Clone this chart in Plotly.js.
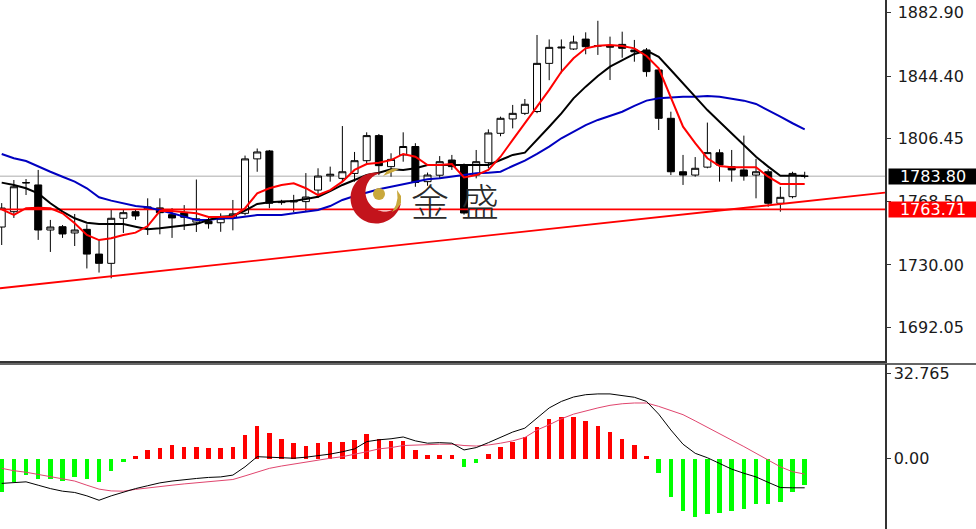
<!DOCTYPE html>
<html><head><meta charset="utf-8">
<script src="https://cdn.plot.ly/plotly-3.0.1.min.js"></script>
<style>html,body{margin:0;padding:0;background:#fff;}#chart{width:976px;height:529px;}</style>
</head><body><div id="chart"></div>
<script>
// ---------- data ----------
const openP = [1753.0,1762.3,1779.7,1778.5,1751.2,1753.2,1749.4,1751.6,1736.6,1731.0,
 1758.3,1762.3,1764.0,1764.6,1760.5,1761.7,1756.0,1756.5,1755.6,1759.0,
 1761.3,1794.3,1799.1,1767.8,1768.2,1768.4,1775.4,1784.0,1782.5,1785.5,
 1793.2,1808.4,1789.6,1796.7,1801.8,1780.5,1784.4,1793.6,1790.6,1784.5,
 1792.0,1809.8,1818.5,1821.9,1823.0,1852.2,1861.5,1860.9,1866.9,1862.6,
 1863.0,1863.7,1860.3,1860.3,1848.2,1818.9,1786.5,1784.5,1789.3,1798.0,
 1789.6,1787.6,1784.5,1786.5,1767.4,1771.4,1783.8];
const highP = [1767.5,1781.5,1782.1,1787.6,1757.3,1754.2,1760.9,1754.6,1745.2,1763.7,
 1763.8,1763.7,1770.4,1770.4,1764.5,1766.3,1781.8,1759.0,1761.3,1769.4,
 1796.3,1800.6,1799.7,1769.5,1772.5,1785.7,1788.6,1789.6,1814.2,1798.5,
 1810.4,1809.4,1797.7,1810.4,1803.8,1786.0,1796.0,1796.7,1791.5,1799.7,
 1812.2,1819.9,1827.0,1830.6,1869.4,1866.7,1866.7,1869.0,1871.0,1878.0,
 1868.4,1871.4,1866.4,1861.5,1849.2,1822.9,1796.7,1795.4,1816.3,1800.1,
 1799.7,1808.4,1794.3,1788.0,1777.4,1786.5,1786.5];
const lowP = [1742.1,1758.5,1772.4,1745.2,1737.9,1746.4,1741.5,1727.9,1725.4,1721.9,
 1749.4,1757.3,1748.2,1748.6,1746.4,1751.2,1750.0,1752.0,1750.1,1751.0,
 1760.1,1786.5,1764.4,1766.5,1762.0,1762.6,1770.6,1780.5,1780.5,1780.5,
 1791.6,1784.5,1783.5,1792.6,1777.4,1778.0,1782.5,1787.6,1760.5,1782.5,
 1788.6,1808.0,1812.8,1820.9,1822.0,1842.0,1846.2,1860.3,1857.7,1857.3,
 1842.1,1855.6,1853.2,1844.1,1811.8,1784.5,1778.5,1783.5,1788.6,1780.5,
 1780.5,1781.1,1770.4,1765.3,1762.3,1770.4,1782.5];
const closeP = [1764.5,1777.4,1779.9,1751.2,1753.0,1748.8,1751.2,1736.6,1731.0,1758.3,
 1761.7,1759.7,1765.2,1761.7,1758.5,1758.9,1758.0,1755.0,1758.3,1761.0,
 1794.3,1798.5,1767.4,1768.4,1769.0,1771.2,1783.9,1785.0,1786.5,1793.2,
 1808.4,1790.2,1794.0,1801.8,1780.0,1784.5,1792.6,1789.6,1761.5,1792.6,
 1810.0,1818.9,1821.9,1827.4,1852.2,1861.9,1862.0,1865.1,1862.3,1863.0,
 1862.0,1861.3,1859.2,1847.2,1818.9,1786.5,1784.5,1788.6,1798.1,1790.6,
 1787.6,1783.9,1786.5,1767.4,1771.0,1785.5,1783.8];
const maRed = [1763.7,1760.3,1764.4,1764.7,1764.4,1761.3,1755.3,1748.2,1745.1,1746.2,
 1748.2,1749.6,1753.6,1762.7,1762.7,1762.1,1761.3,1759.1,1759.1,1759.3,
 1764.4,1773.4,1776.5,1778.5,1779.5,1776.5,1772.4,1775.4,1780.5,1787.6,
 1791.2,1792.0,1793.6,1797.3,1795.6,1790.6,1790.6,1791.2,1783.1,1784.5,
 1787.6,1795.6,1805.8,1815.9,1825.9,1836.1,1847.1,1855.3,1861.3,1862.9,
 1863.3,1862.7,1861.3,1856.7,1849.2,1832.0,1813.8,1803.8,1794.7,1790.0,
 1789.2,1789.2,1789.2,1783.5,1779.1,1779.1,1779.1];
const maBlack = [1779.9,1778.5,1776.5,1773.4,1767.4,1762.3,1758.3,1755.6,1754.8,1754.8,
 1754.8,1753.2,1751.6,1752.2,1753.2,1754.1,1754.8,1757.3,1759.3,1759.7,
 1762.9,1767.0,1768.0,1768.4,1768.8,1770.0,1771.4,1774.8,1778.5,1781.5,
 1784.5,1785.9,1788.0,1787.6,1788.6,1790.6,1790.6,1790.6,1790.6,1790.2,
 1790.6,1793.6,1796.7,1798.1,1805.8,1813.8,1821.9,1831.0,1838.1,1844.5,
 1850.2,1854.2,1857.9,1859.9,1856.2,1848.2,1840.1,1832.0,1823.9,1816.8,
 1809.8,1802.7,1795.6,1789.6,1784.1,1784.1,1784.1];
const maBlue = [1797.3,1794.7,1793.0,1789.6,1786.5,1783.5,1780.5,1776.5,1771.0,1769.0,
 1767.4,1765.7,1765.0,1763.3,1761.3,1759.3,1757.3,1757.3,1758.3,1758.3,
 1759.3,1760.3,1760.3,1760.3,1761.3,1762.1,1763.3,1765.7,1769.4,1771.8,
 1773.8,1775.9,1777.4,1778.9,1780.5,1781.9,1782.5,1783.5,1784.5,1785.6,
 1785.9,1786.5,1790.0,1793.2,1797.3,1801.7,1806.8,1810.8,1814.8,1817.9,
 1820.3,1822.9,1826.4,1829.6,1831.0,1831.6,1832.0,1832.0,1832.4,1832.0,
 1831.0,1829.6,1827.6,1823.9,1819.9,1815.9,1812.2];
const macdHist = [-12.95,-9.25,-6.55,-7.8,-7.8,-8.6,-7.3,-7.8,-9.25,-5.0,
 -1.5,0.8,3.1,4.2,5.3,4.6,4.6,4.2,4.2,4.6,
 9.1,12.6,9.8,7.6,5.8,5.0,5.8,6.3,6.55,7.2,
 9.4,7.5,6.9,6.9,3.1,1.2,1.2,1.2,-3.3,-1.8,
 1.6,4.6,6.5,8.4,12.3,15.3,15.9,15.9,14.5,12.6,
 10.2,7.6,5.3,1.0,-5.7,-14.7,-20.1,-22.4,-21.3,-21.0,
 -20.4,-19.4,-17.5,-17.6,-16.6,-13.1,-10.2];
const macdLine = [-9.6,-9.2,-9.0,-10.3,-11.6,-12.6,-13.1,-14.4,-16.1,-14.4,
 -12.9,-11.6,-10.5,-9.4,-8.7,-8.1,-7.7,-7.3,-7.1,-6.4,
 -3.2,0.7,0.5,0.5,0.1,0.5,1.1,1.7,2.6,3.7,
 6.5,7.2,7.6,8.3,6.8,5.9,6.1,5.9,3.3,4.2,
 6.1,8.1,10.2,11.7,15.6,19.5,22.0,23.7,24.6,24.9,
 24.9,24.3,23.6,22.0,17.1,11.0,5.5,2.0,0.3,-1.9,
 -4.1,-5.7,-7.1,-9.2,-11.2,-11.3,-11.3];
const macdSignal = [-3.8,-4.7,-5.3,-6.1,-7.1,-7.7,-8.7,-10.3,-11.8,-12.5,
 -12.6,-11.9,-11.3,-10.7,-10.3,-9.8,-9.4,-9.0,-8.7,-8.1,
 -6.7,-5.1,-3.8,-2.9,-2.1,-1.5,-0.6,0.1,0.7,1.6,
 2.6,3.7,4.2,5.0,5.2,5.5,5.5,5.5,5.0,4.8,
 5.2,5.9,6.8,8.1,11.0,13.0,15.3,17.1,18.4,19.5,
 20.5,21.1,21.4,21.4,20.1,18.4,16.9,14.5,12.1,9.5,
 7.2,4.6,2.0,-0.6,-3.2,-5.1,-6.0];
const priceTicks = [1882.90,1844.40,1806.45,1768.50,1730.00,1692.05];
const priceTickText = ['1882.90','1844.40','1806.45','1768.50','1730.00','1692.05'];
const macdTicks = [32.765, 0];
const macdTickText = ['32.765','0.00'];
const lastPrice = 1783.80;
const lastPriceText = '1783.80';
const supportLevel = 1763.71;
const supportText = '1763.71';
const trendIdx = [-0.14, 72.6];
const trendVal = [1715.9, 1773.8];
const logoChars = ['金','盛'];

// ---------- build ----------
const W = 976, H = 529;
const idx = openP.map((_, i) => i);
const XR = [-0.14, 72.6];
const plotRight = 885 / W;

const traces = [
  {type:'candlestick', x:idx, open:openP, high:highP, low:lowP, close:closeP,
   xaxis:'x', yaxis:'y', whiskerwidth:0, hoverinfo:'skip',
   increasing:{line:{color:'#000',width:1}, fillcolor:'#ffffff'},
   decreasing:{line:{color:'#000',width:1}, fillcolor:'#000000'}},
  {type:'scatter', mode:'lines', x:XR, y:[supportLevel, supportLevel], xaxis:'x', yaxis:'y',
   line:{color:'#ff0000', width:1.6}, hoverinfo:'skip'},
  {type:'scatter', mode:'lines', x:trendIdx, y:trendVal, xaxis:'x', yaxis:'y',
   line:{color:'#ff0000', width:1.8}, hoverinfo:'skip'},
  {type:'scatter', mode:'lines', x:idx, y:maBlue, xaxis:'x', yaxis:'y',
   line:{color:'#0000c0', width:2}, hoverinfo:'skip'},
  {type:'scatter', mode:'lines', x:idx, y:maBlack, xaxis:'x', yaxis:'y',
   line:{color:'#000000', width:2}, hoverinfo:'skip'},
  {type:'scatter', mode:'lines', x:idx, y:maRed, xaxis:'x', yaxis:'y',
   line:{color:'#ff0000', width:2}, hoverinfo:'skip'},
  {type:'bar', x:idx, y:macdHist, xaxis:'x2', yaxis:'y2', width:0.37,
   marker:{color:macdHist.map(v => v >= 0 ? '#ff0000' : '#00ff00'), line:{width:0}}, hoverinfo:'skip'},
  {type:'scatter', mode:'lines', x:idx, y:macdSignal, xaxis:'x2', yaxis:'y2',
   line:{color:'#e0456e', width:1}, hoverinfo:'skip'},
  {type:'scatter', mode:'lines', x:idx, y:macdLine, xaxis:'x2', yaxis:'y2',
   line:{color:'#000000', width:1}, hoverinfo:'skip'}
];

// logo geometry (decoration, pixel coords -> paper)
function polyPath(pts){
  return pts.map((p,k)=>(k?'L':'M')+(p[0]/W).toFixed(5)+','+(1-p[1]/H).toFixed(5)).join('')+'Z';
}
function crescentPts(c1x,c1y,r1,c2x,c2y,r2,n){
  const dx=c2x-c1x, dy=c2y-c1y, d=Math.hypot(dx,dy), phi=Math.atan2(dy,dx);
  const a=(r1*r1-r2*r2+d*d)/(2*d), h=Math.sqrt(r1*r1-a*a);
  const al=Math.atan2(h,a), be=Math.atan2(h,a-d), pts=[];
  for(let k=0;k<=n;k++){const t=phi+al+(2*Math.PI-2*al)*k/n; pts.push([c1x+r1*Math.cos(t),c1y+r1*Math.sin(t)]);}
  for(let k=0;k<=n;k++){const t=phi+2*Math.PI-be-(2*Math.PI-2*be)*k/n; pts.push([c2x+r2*Math.cos(t),c2y+r2*Math.sin(t)]);}
  return pts;
}
const shapes = [
  {type:'line', xref:'paper', yref:'y', x0:0, x1:plotRight, y0:lastPrice, y1:lastPrice,
   line:{color:'#c8c8c8', width:1.5}, layer:'below'},
  {type:'line', xref:'paper', yref:'paper', x0:0, x1:1, y0:1-364/H, y1:1-364/H,
   line:{color:'#333', width:1.5}},
  {type:'path', xref:'paper', yref:'paper', path:polyPath(crescentPts(376,198,25.5,385,192,19.5,48)),
   fillcolor:'#c3141c', line:{width:0}, layer:'above'},
  {type:'circle', xref:'paper', yref:'paper', x0:373/W, x1:385/W, y0:1-200/H, y1:1-188/H,
   fillcolor:'#c9a83c', line:{width:0}, layer:'above'},
  {type:'path', xref:'paper', yref:'paper', path:polyPath([[383,176],[387,171],[393,168.5],[399,169],[394,171.5],[388,174]]),
   fillcolor:'#c9a83c', line:{width:0}, layer:'above'},
  {type:'path', xref:'paper', yref:'paper', path:polyPath([[397,190],[401,196],[401,203],[397,209],[392,212],[396,205],[397.5,198]]),
   fillcolor:'#c9a83c', line:{width:0}, layer:'above'}
];

const annotations = [
  {xref:'paper', yref:'y', x:888/W, y:lastPrice, xanchor:'left', yanchor:'middle', text:lastPriceText,
   showarrow:false, bgcolor:'#000', width:88, height:15, borderpad:0,
   font:{family:'DejaVu Sans', size:16, color:'#fff'}},
  {xref:'paper', yref:'y', x:888/W, y:supportLevel, xanchor:'left', yanchor:'middle', text:supportText,
   showarrow:false, bgcolor:'#ff0000', width:88, height:15, borderpad:0,
   font:{family:'DejaVu Sans', size:16, color:'#fff'}},
  {xref:'paper', yref:'paper', x:429.5/W, y:1-199/H, xanchor:'center', yanchor:'middle', text:logoChars[0],
   showarrow:false, font:{family:'Noto Sans CJK SC', size:38, color:'#2a2a2a', weight:300}},
  {xref:'paper', yref:'paper', x:479.5/W, y:1-199/H, xanchor:'center', yanchor:'middle', text:logoChars[1],
   showarrow:false, font:{family:'Noto Sans CJK SC', size:38, color:'#2a2a2a', weight:300}}
];

const tickFont = {family:'DejaVu Sans', size:16, color:'#1a1a1a'};
const layout = {
  width:W, height:H, margin:{l:0,r:0,t:0,b:0}, paper_bgcolor:'#fff', plot_bgcolor:'#fff',
  showlegend:false, boxgap:0.2, boxgroupgap:0.28, bargap:0,
  xaxis:{domain:[0,plotRight], range:XR, anchor:'y', showticklabels:false, showgrid:false, zeroline:false,
         showline:true, linecolor:'#333', linewidth:1.5, ticks:'', rangeslider:{visible:false}, fixedrange:true},
  yaxis:{domain:[1-361/H,1], range:[1671.8,1890.6], anchor:'x', side:'right', showgrid:false, zeroline:false,
         showline:true, linecolor:'#333', linewidth:1.5, ticks:'outside', ticklen:4, tickcolor:'#333',
         tickvals:priceTicks, ticktext:priceTickText, tickfont:tickFont, ticklabelstandoff:4, fixedrange:true},
  xaxis2:{domain:[0,plotRight], range:XR, anchor:'y2', showticklabels:false, showgrid:false, zeroline:false,
          showline:false, ticks:'', fixedrange:true},
  yaxis2:{domain:[0,1-364/H], range:[-27.18,36.43], anchor:'x2', side:'right', showgrid:false, zeroline:false,
          showline:true, linecolor:'#333', linewidth:1.5, ticks:'outside', ticklen:4, tickcolor:'#333',
          tickvals:macdTicks, ticktext:macdTickText, tickfont:tickFont, fixedrange:true},
  shapes:shapes, annotations:annotations
};
Plotly.newPlot('chart', traces, layout, {staticPlot:true, displayModeBar:false});
</script></body></html>
